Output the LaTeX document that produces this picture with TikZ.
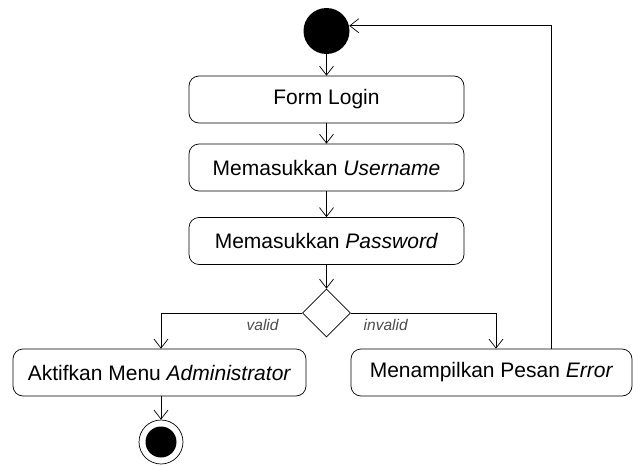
\documentclass[tikz,border=0pt]{standalone}
\usepackage{fontspec}
\setmainfont{Liberation Sans}
\usetikzlibrary{arrows.meta,shapes.geometric,positioning}

\begin{document}
\begin{tikzpicture}[x=1pt, y=-1pt, line width=0.7pt,
    >={Straight Barb[length=9pt,width=14pt]},
    act/.style={draw, rounded corners=10pt, minimum height=47pt,
        inner sep=0pt, font=\fontsize{21}{24}\selectfont},
    lbl/.style={font=\itshape\fontsize{15.5}{18}\selectfont, text=black!70,
        inner sep=2pt, yshift=-4pt}]
    \useasboundingbox (0,0) rectangle (633,466);
    \node[circle, fill, minimum size=46pt, inner sep=0pt] (start) at (326.5,31) {};
    \foreach[count=\i] \y/\txt in {99.5/Form Login,
            167.5/Memasukkan \textit{Username},
            241/Memasukkan \textit{Password}} {
        \node[act, minimum width=275pt] (n-\i) at (326.5,\y) {\txt};
    }
    \node[diamond, draw, minimum width=48pt, minimum height=48pt,
        inner sep=0pt] (dec) at (326.5,313) {};
    \node[act, minimum width=293pt] (admin) at (159.5,372.5)
        {Aktifkan Menu \textit{Administrator}};
    \node[act, minimum width=281pt] (err) at (491.5,372.5)
        {Menampilkan Pesan \textit{Error}};
    \node[circle, draw, minimum size=44pt, inner sep=0pt] (end) at (161,442) {};
    \node[circle, fill, minimum size=31pt, inner sep=0pt] (end-in) at (end) {};
    \coordinate (inv) at (496,0);
    \coordinate (back) at (551,26);
    \draw[->] (start) -- (n-1);
    \draw[->] (n-1) -- (n-2);
    \draw[->] (n-2) -- (n-3);
    \draw[->] (n-3) -- (dec);
    \draw[->] (dec.west) -| node[lbl, pos=0.14, below] {valid} (end |- admin.north);
    \draw[->] (dec.east) -| node[lbl, pos=0.12, below] {invalid} (inv |- err.north);
    \draw[->] (admin.south -| end) -- (end);
    \draw[->] (err.north -| back) |- (start.13);
\end{tikzpicture}
\end{document}
